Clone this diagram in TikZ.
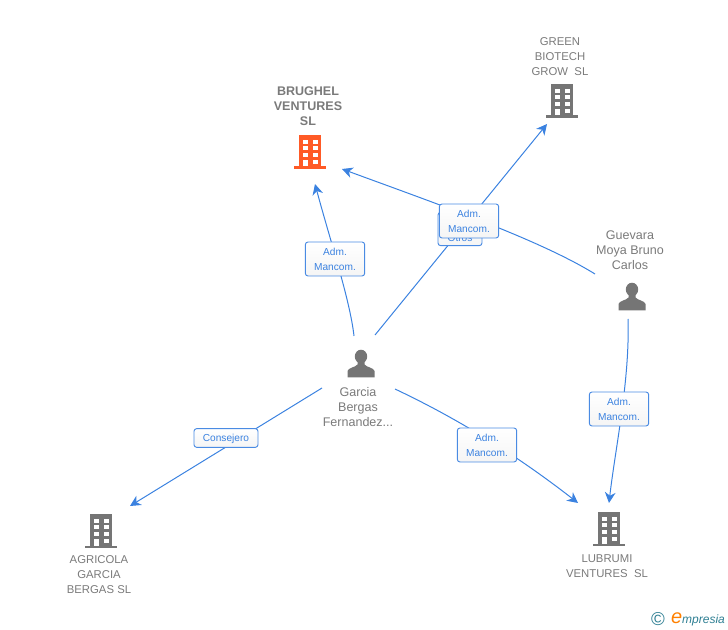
\documentclass[tikz,border=0pt]{standalone}
\usepackage{fontspec}
\setmainfont{Liberation Sans}
\usepackage{xcolor}
\usetikzlibrary{arrows.meta}
\definecolor{linkblue}{HTML}{3B82E0}
\definecolor{boxblue}{HTML}{4A8BE3}
\definecolor{icongray}{HTML}{757575}
\definecolor{textgray}{HTML}{7A7A7A}
\definecolor{brandred}{HTML}{FF5A26}
\definecolor{brandteal}{HTML}{2F7F93}
\tikzset{
  rolebox/.style={draw=boxblue,rounded corners=2pt,top color=white,bottom color=black!4,text=linkblue,font=\fontsize{7.6pt}{11.2pt}\selectfont,align=center,line width=0.7pt,inner sep=0pt,text depth=0pt},
  admbox/.style={rolebox,minimum width=44.5pt,minimum height=25.5pt},
  namelabel/.style={text=textgray,font=\fontsize{8.5pt}{11.2pt}\selectfont,align=center,inner sep=0pt},
  personlabel/.style={namelabel,font=\fontsize{9.4pt}{11.2pt}\selectfont},
  link/.style={linkblue,line width=0.75pt},
  arrowlink/.style={link,-{Stealth[length=8pt,width=8pt,inset=2.5pt]}},
  buildingicon/.pic={
    \fill[pic actions] (-11,-17) rectangle (11,16);
    \fill[pic actions] (-16,14.5) rectangle (16,17);
    \foreach \row in {-12.3,-6,1} {
      \fill[white] (-7.3,\row) rectangle (-2.3,\row+4);
      \fill[white] (2.7,\row) rectangle (7.7,\row+4);
    }
    \fill[white] (2.7,8) rectangle (7.7,12);
    \fill[white] (-7.3,8) rectangle (-2.3,14.5);
  },
  personicon/.pic={
    \fill[icongray] (0,-7.5) ellipse (6.2 and 6.8);
    \fill[icongray] (-13.5,13.5) -- (-13.5,7) .. controls (-12.5,3.5) and (-6,3.5) .. (-3.5,0.5) -- (-3.5,-3) -- (3.5,-3) -- (3.5,0.5) .. controls (6,3.5) and (12.5,3.5) .. (13.5,7) -- (13.5,13.5) -- cycle;
  }
}
\begin{document}
\begin{tikzpicture}[x=0.75pt,y=-0.75pt]
  \useasboundingbox (0,0) rectangle (728,630);
  % free ends of the connectors
  \coordinate (garciaa) at (354,336);
  \coordinate (garciab) at (375,335);
  \coordinate (garciac) at (395,389);
  \coordinate (garciad) at (322,388);
  \coordinate (guevaraa) at (595,274);
  \coordinate (guevarab) at (628,319);
  \coordinate (brughelin) at (315,184);
  \coordinate (brughelinb) at (342,169);
  \coordinate (greenin) at (547,124);
  \coordinate (lubrumiin) at (578,503);
  \coordinate (lubrumiinb) at (609,503);
  \coordinate (agricolain) at (130,506);
  % icons
  \pic[icongray] at (562,101) {buildingicon};
  \pic[brandred] at (310,152) {buildingicon};
  \pic[icongray] at (101,531) {buildingicon};
  \pic[icongray] at (609,529) {buildingicon};
  \pic at (361,364) {personicon};
  \pic at (632,297) {personicon};
  % connectors
  \draw[arrowlink] (garciaa) .. controls (350,300) and (330,240) .. (brughelin);
  \draw[arrowlink] (garciab) -- (greenin);
  \draw[arrowlink] (guevaraa) .. controls (540,240) and (440,205) .. (brughelinb);
  \draw[arrowlink] (guevarab) .. controls (630,380) and (615,450) .. (lubrumiinb);
  \draw[arrowlink] (garciac) .. controls (450,415) and (510,450) .. (lubrumiin);
  \draw[arrowlink] (garciad) -- (agricolain);
  % role labels
  \node[rolebox,minimum width=33pt,minimum height=25pt] (rolehidden) at (460,229) {};
  \node[inner sep=0pt,text=linkblue,font=\fontsize{7.6pt}{11.2pt}\selectfont] (rolehiddentext) at (460,238) {Otros};
  \node[admbox] (rolegreen) at (469,221) {Adm.\\Mancom.};
  \node[admbox] (rolebrughel) at (335,259) {Adm.\\Mancom.};
  \node[admbox] (rolelubrumi) at (487,445) {Adm.\\Mancom.};
  \node[admbox] (roleguevara) at (619,409) {Adm.\\Mancom.};
  \node[rolebox,minimum width=48pt,minimum height=14pt] (roleagricola) at (226,438) {Consejero};
  % names
  \node[namelabel,font=\bfseries\fontsize{9.4pt}{11.2pt}\selectfont] (brughel) at (308,106) {BRUGHEL\\VENTURES\\SL};
  \node[namelabel] (green) at (560,57) {GREEN\\BIOTECH\\GROW\ \ SL};
  \node[personlabel] (guevara) at (630,250) {Guevara\\Moya Bruno\\Carlos};
  \node[personlabel] (garcia) at (358,407) {Garcia\\Bergas\\Fernandez...};
  \node[namelabel] (agricola) at (99,575) {AGRICOLA\\GARCIA\\BERGAS SL};
  \node[namelabel] (lubrumi) at (607,566) {LUBRUMI\\VENTURES\ \ SL};
  % brand mark
  \node[inner sep=0pt,text=brandteal,font=\fontsize{14pt}{14pt}\selectfont] (copyrightmark) at (658,619) {\char"00A9};
  \node[inner sep=0pt,font=\itshape\fontsize{9pt}{10pt}\selectfont,text=brandteal] (brandmark) at (698,619) {{\color{orange}\fontsize{15pt}{10pt}\selectfont e}mpresia};
\end{tikzpicture}
\end{document}
